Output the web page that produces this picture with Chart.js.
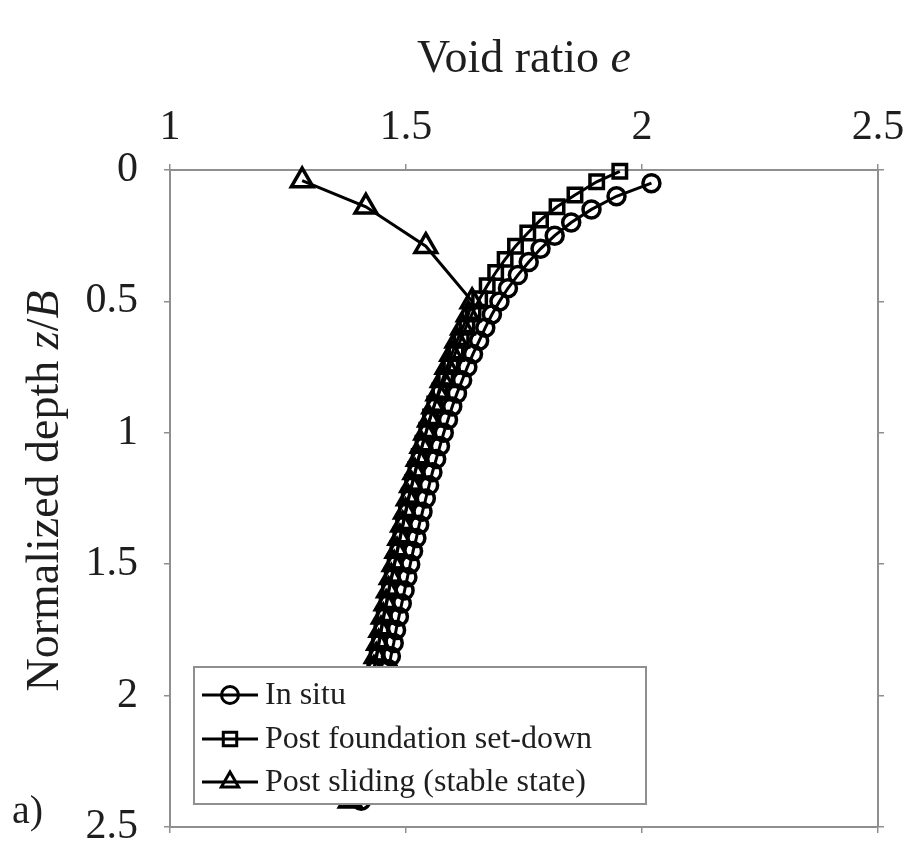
<!DOCTYPE html>
<html>
<head>
<meta charset="utf-8">
<title>Void ratio profile</title>
<script src="https://cdn.jsdelivr.net/npm/chart.js@4/dist/chart.umd.min.js"></script>
<style>
	html, body { margin: 0; padding: 0; background: #fff; }
	#void-ratio { display: block; }
</style>
</head>
<body>
<canvas id="void-ratio" width="911" height="854"></canvas>
<script>
// void ratio e (x) vs normalized depth z/B (y)
const in_situ_depth = [0.05, 0.10, 0.15, 0.20, 0.25, 0.30, 0.35, 0.40, 0.45, 0.50, 0.55, 0.60, 0.65, 0.70, 0.75, 0.80,
	0.85, 0.90, 0.95, 1.00, 1.05, 1.10, 1.15, 1.20, 1.25, 1.30, 1.35, 1.40, 1.45, 1.50, 1.55, 1.60,
	1.65, 1.70, 1.75, 1.80, 1.85, 1.90, 1.95, 2.00, 2.05, 2.10, 2.15, 2.20, 2.25, 2.30, 2.35, 2.40];
const in_situ_e = [2.020, 1.946, 1.893, 1.850, 1.815, 1.785, 1.760, 1.737, 1.716, 1.698, 1.682, 1.668, 1.655, 1.642, 1.630, 1.619,
	1.608, 1.598, 1.589, 1.580, 1.572, 1.564, 1.556, 1.549, 1.542, 1.535, 1.528, 1.522, 1.515, 1.509, 1.503, 1.497,
	1.491, 1.485, 1.479, 1.474, 1.468, 1.463, 1.457, 1.452, 1.446, 1.441, 1.436, 1.430, 1.424, 1.418, 1.412, 1.405];

const set_down_depth = [0.005, 0.045, 0.095, 0.14, 0.19, 0.24, 0.29, 0.34, 0.39, 0.44, 0.49, 0.54, 0.59, 0.64, 0.69, 0.74,
	0.79, 0.84, 0.89, 0.94, 0.99, 1.04, 1.09, 1.14, 1.19, 1.24, 1.29, 1.34, 1.39, 1.44, 1.49, 1.54,
	1.59, 1.64, 1.69, 1.74, 1.79, 1.84, 1.89, 1.94, 1.99, 2.04, 2.09, 2.14, 2.19, 2.24, 2.29, 2.34, 2.39];
const set_down_e = [1.953, 1.904, 1.858, 1.820, 1.785, 1.758, 1.732, 1.710, 1.690, 1.672, 1.656, 1.642, 1.629, 1.617, 1.606, 1.595,
	1.584, 1.572, 1.561, 1.552, 1.544, 1.536, 1.528, 1.521, 1.514, 1.507, 1.501, 1.495, 1.489, 1.483, 1.477, 1.471,
	1.465, 1.460, 1.454, 1.449, 1.444, 1.439, 1.434, 1.429, 1.424, 1.419, 1.414, 1.409, 1.404, 1.399, 1.394, 1.389, 1.384];

const sliding_depth = [0.04, 0.14, 0.29, 0.50, 0.55, 0.60, 0.65, 0.70, 0.75, 0.80, 0.85, 0.90, 0.95, 1.00, 1.05, 1.10,
	1.15, 1.20, 1.25, 1.30, 1.35, 1.40, 1.45, 1.50, 1.55, 1.60, 1.65, 1.70, 1.75, 1.80, 1.85, 1.90,
	1.95, 2.00, 2.05, 2.10, 2.15, 2.20, 2.25, 2.30, 2.35, 2.40];
const sliding_e = [1.280, 1.415, 1.542, 1.640, 1.632, 1.620, 1.608, 1.597, 1.587, 1.577, 1.568, 1.559, 1.550, 1.542, 1.534, 1.526,
	1.519, 1.512, 1.505, 1.499, 1.493, 1.487, 1.481, 1.475, 1.469, 1.463, 1.458, 1.452, 1.447, 1.442, 1.437, 1.432,
	1.427, 1.422, 1.417, 1.412, 1.407, 1.402, 1.397, 1.392, 1.387, 1.382];

const series_labels = ["In situ", "Post foundation set-down", "Post sliding (stable state)"];
const e_ticks = [1, 1.5, 2, 2.5];
const depth_ticks = [0, 0.5, 1, 1.5, 2, 2.5];

const serif = "'Liberation Serif', 'DejaVu Serif', serif";
const axis_grey = "#8f8f8f";

let to_points = (e_list, z_list) => e_list.map((e, i) => ({ x: e, y: z_list[i] }));

let make_dataset = (label, points, style, radius) => ({
	label: label,
	data: points,
	showLine: true,
	borderColor: "#000",
	borderWidth: 3,
	pointStyle: style,
	pointRadius: radius,
	pointHoverRadius: radius,
	pointBorderColor: "#000",
	pointBackgroundColor: "rgba(0,0,0,0)",
	pointBorderWidth: 3.5,
	clip: false
});

// draws text made of [text, italic] pieces centred on (cx, cy)
let draw_rich = (ctx, parts, cx, cy, size) => {
	let widths = parts.map(([t, it]) => {
		ctx.font = (it ? "italic " : "") + size + "px " + serif;
		return ctx.measureText(t).width;
	});
	let total = widths.reduce((a, b) => a + b, 0);
	let x = cx - total / 2;
	ctx.textAlign = "left";
	ctx.textBaseline = "middle";
	parts.forEach(([t, it], i) => {
		ctx.font = (it ? "italic " : "") + size + "px " + serif;
		ctx.fillText(t, x, cy);
		x += widths[i];
	});
};

let draw_marker = (ctx, style, x, y, r) => {
	ctx.beginPath();
	if (style === "circle") {
		ctx.arc(x, y, r, 0, Math.PI * 2);
	} else if (style === "rect") {
		let s = r * Math.SQRT1_2;
		ctx.rect(x - s, y - s, 2 * s, 2 * s);
	} else {
		ctx.moveTo(x, y - r);
		ctx.lineTo(x + r * 0.866, y + r * 0.5);
		ctx.lineTo(x - r * 0.866, y + r * 0.5);
		ctx.closePath();
	}
	ctx.stroke();
};

const annotations_plugin = {
	id: "annotations",
	afterDraw: (chart) => {
		const ctx = chart.ctx;
		const area = chart.chartArea;
		ctx.save();
		ctx.fillStyle = "#1e1e1e";

		draw_rich(ctx, [["Void ratio ", false], ["e", true]], (area.left + area.right) / 2, 60, 46);

		ctx.save();
		ctx.translate(46, 491);
		ctx.rotate(-Math.PI / 2);
		draw_rich(ctx, [["Normalized depth ", false], ["z", true], ["/", false], ["B", true]], 0, 0, 46);
		ctx.restore();

		ctx.font = "40px " + serif;
		ctx.textAlign = "left";
		ctx.textBaseline = "middle";
		ctx.fillText("a)", 12, 812);

		// legend box
		const box = { left: 194, top: 667, right: 646, bottom: 804 };
		ctx.fillStyle = "#fff";
		ctx.fillRect(box.left, box.top, box.right - box.left, box.bottom - box.top);
		ctx.strokeStyle = axis_grey;
		ctx.lineWidth = 2;
		ctx.strokeRect(box.left, box.top, box.right - box.left, box.bottom - box.top);

		const rows = [695, 739, 782];
		chart.data.datasets.forEach((ds, i) => {
			let y = rows[i];
			ctx.strokeStyle = "#000";
			ctx.lineWidth = 3;
			ctx.beginPath();
			ctx.moveTo(202, y);
			ctx.lineTo(258, y);
			ctx.stroke();
			ctx.lineWidth = 3;
			draw_marker(ctx, ds.pointStyle, 230, y, Math.min(ds.pointRadius, 10));
			ctx.fillStyle = "#1e1e1e";
			ctx.font = "32px " + serif;
			ctx.textAlign = "left";
			ctx.textBaseline = "middle";
			ctx.fillText(ds.label, 265, y + 1);
		});
		ctx.restore();
	}
};

let hidden_axis = (position, size) => ({
	type: "linear",
	position: position,
	min: position === "bottom" ? 1 : 0,
	max: 2.5,
	reverse: position === "right",
	afterBuildTicks: (scale) => {
		scale.ticks = (position === "bottom" ? e_ticks : depth_ticks).map(v => ({ value: v }));
	},
	ticks: { display: false },
	grid: { drawOnChartArea: false, drawTicks: true, tickLength: 6, color: axis_grey, lineWidth: 1.5 },
	border: { color: axis_grey, width: 2 },
	afterFit: (scale) => {
		if (position === "bottom") scale.height = size; else scale.width = size;
		scale.paddingTop = 0;
		scale.paddingBottom = 0;
		scale.paddingLeft = 0;
		scale.paddingRight = 0;
	}
});

let show_void_ratio = () => {
	const config = {
		type: "scatter",
		data: {
			datasets: [
				make_dataset(series_labels[0], to_points(in_situ_e, in_situ_depth), "circle", 8.5),
				make_dataset(series_labels[1], to_points(set_down_e, set_down_depth), "rect", 9.5),
				make_dataset(series_labels[2], to_points(sliding_e, sliding_depth), "triangle", 12.5)
			]
		},
		options: {
			responsive: false,
			animation: false,
			layout: { padding: 0, autoPadding: false },
			plugins: {
				legend: { display: false },
				tooltip: { enabled: false },
				title: { display: false }
			},
			scales: {
				x: {
					type: "linear",
					position: "top",
					min: 1,
					max: 2.5,
					afterBuildTicks: (scale) => {
						scale.ticks = e_ticks.map(v => ({ value: v }));
					},
					ticks: {
						font: { family: serif, size: 42 },
						color: "#1e1e1e",
						padding: 11,
						maxRotation: 0,
						callback: (v) => String(v)
					},
					grid: { drawOnChartArea: false, drawTicks: true, tickLength: 6, color: axis_grey, lineWidth: 1.5 },
					border: { color: axis_grey, width: 2 },
					afterFit: (scale) => {
						scale.height = 170;
						scale.paddingLeft = 0;
						scale.paddingRight = 0;
					}
				},
				x2: Object.assign(hidden_axis("bottom", 27), { axis: "x" }),
				y: {
					type: "linear",
					position: "left",
					min: 0,
					max: 2.5,
					reverse: true,
					afterBuildTicks: (scale) => {
						scale.ticks = depth_ticks.map(v => ({ value: v }));
					},
					ticks: {
						font: { family: serif, size: 42 },
						color: "#1e1e1e",
						padding: 26,
						callback: (v) => String(v)
					},
					grid: { drawOnChartArea: false, drawTicks: true, tickLength: 6, color: axis_grey, lineWidth: 1.5 },
					border: { color: axis_grey, width: 2 },
					afterFit: (scale) => {
						scale.width = 170;
						scale.paddingTop = 0;
						scale.paddingBottom = 0;
					}
				},
				y2: Object.assign(hidden_axis("right", 33), { axis: "y" })
			}
		},
		plugins: [annotations_plugin]
	};

	new Chart(document.getElementById("void-ratio"), config);
}

show_void_ratio();
</script>
</body>
</html>
